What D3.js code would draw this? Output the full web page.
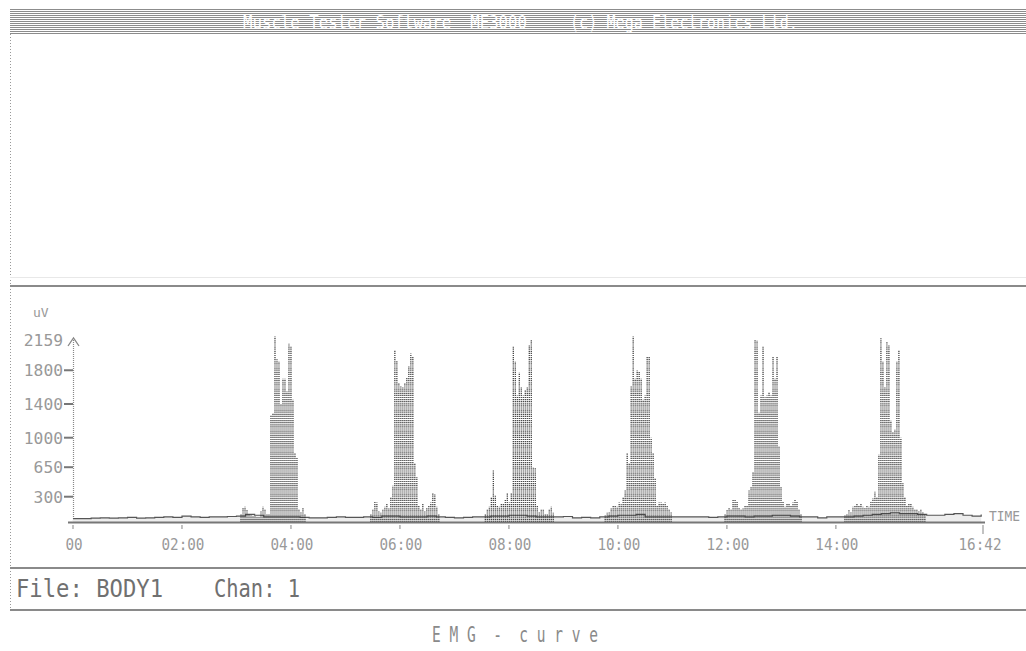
<!DOCTYPE html>
<html>
<head>
<meta charset="utf-8">
<script src="https://cdn.jsdelivr.net/npm/d3@7"></script>
<style>
  html, body { margin: 0; padding: 0; background: #fff; }
  svg { display: block; }
  text { font-family: "DejaVu Sans Mono", "Liberation Mono", monospace; white-space: pre; }
</style>
</head>
<body>
<svg id="chart" width="1026" height="651"></svg>
<script>
// ---- recording: EMG amplitude (uV) over time (s) ----
const totalSeconds = 1002;            // 16:42
const restStep = 10;                  // resting envelope sampled every 10 s
const restLevel = [
  40, 40, 45, 50, 45, 50, 55, 45, 50, 55,
  60, 55, 70, 60, 55, 60, 60, 65, 70, 90,
  80, 60, 60, 60, 60, 55, 50, 50, 55, 60,
  55, 55, 60, 55, 70, 70, 60, 60, 60, 70,
  60, 55, 50, 55, 60, 60, 70, 70, 80, 80,
  70, 60, 60, 60, 65, 50, 55, 50, 60, 70,
  80, 80, 90, 60, 60, 60, 60, 60, 60, 60,
  55, 60, 70, 70, 60, 70, 70, 80, 80, 70,
  60, 60, 50, 60, 60, 60, 70, 80, 90, 100,
  110, 100, 100, 90, 80, 80, 90, 100, 80, 70,
  90
];

// contraction bursts: start time (s) and amplitude every 2.2 s
const burstStep = 2.2;
const burstStarts = [185, 328, 454, 586, 718, 850];
const burst1 = [90, 170, 180, 140, 100, 80, 70, 70, 60, 60, 130, 180, 150, 90, 100,
  1270, 1290, 2200, 1930, 1900, 1400, 1700, 1700, 1550, 2120, 2080, 1450, 820, 760,
  150, 120, 170, 90];
const burst2 = [90, 150, 240, 230, 130, 110, 150, 180, 220, 160, 300, 430,
  2040, 1920, 1650, 1620, 1600, 1650, 1710, 1850, 2000, 1960, 700, 530,
  200, 150, 220, 130, 170, 190, 230, 350, 330, 180, 90];
const burst3 = [90, 150, 180, 300, 620, 310, 200, 180, 220, 220, 260, 340, 230, 340,
  2080, 1900, 1500, 1770, 1600, 1500, 1570, 1600, 2100, 2160, 650, 640,
  200, 120, 150, 150, 90, 100, 150, 180, 110];
const burst4 = [80, 110, 120, 160, 190, 200, 180, 230, 210, 300, 380, 820, 700,
  1620, 2200, 1700, 1800, 1780, 1700, 1450, 1500, 1960, 1960, 1000, 820, 520,
  200, 230, 230, 220, 230, 200, 150, 120];
const burst5 = [100, 140, 170, 150, 260, 260, 240, 170, 150, 160, 200, 190, 380, 420, 600,
  2160, 2150, 1300, 1500, 2080, 1480, 1500, 1540, 1500, 1960, 1700, 1960, 900, 420,
  250, 180, 220, 220, 200, 230, 260, 250, 150, 90];
const burst6 = [80, 100, 140, 120, 180, 200, 220, 200, 220, 180, 170, 200, 180, 250, 280,
  360, 300, 800, 2180, 1900, 1600, 2140, 2100, 1200, 1070, 1100, 1900, 2040, 1000, 460,
  300, 200, 220, 220, 180, 150, 150, 130, 150, 120, 100];
const bursts = [burst1, burst2, burst3, burst4, burst5, burst6];

// axis ticks
const yTicks = [300, 650, 1000, 1400, 1800, 2159];
const xTickTimes = [0, 120, 240, 360, 480, 600, 720, 840, 1002];
const xTickLabels = ["00", "02:00", "04:00", "06:00", "08:00", "10:00", "12:00", "14:00", "16:42"];

// ---- drawing ----
const svg = d3.select("#chart");
const W = 1026;

const x = d3.scaleLinear().domain([0, totalSeconds]).range([73, 983]);
const y = d3.scaleLinear().domain([0, 2159]).range([522, 340]);

// header band with horizontal raster lines
const header = svg.append("g");
header.selectAll("line").data(d3.range(9, 35, 2)).join("line")
  .attr("x1", 10).attr("x2", W).attr("y1", d => d + 0.5).attr("y2", d => d + 0.5)
  .attr("stroke", "#8c8c8c").attr("stroke-width", 1.2);
header.append("text").attr("x", 243).attr("y", 29)
  .attr("font-size", 19).attr("fill", "#fff")
  .attr("textLength", 284).attr("lengthAdjust", "spacingAndGlyphs")
  .text("Muscle Tester Software  ME3000");
header.append("text").attr("x", 570).attr("y", 29)
  .attr("font-size", 19).attr("fill", "#fff")
  .attr("textLength", 228).attr("lengthAdjust", "spacingAndGlyphs")
  .text("(c) Mega Electronics Ltd.");

// frame: left dotted edge and horizontal rules
svg.append("line").attr("x1", 10.5).attr("x2", 10.5).attr("y1", 34).attr("y2", 612)
  .attr("stroke", "#999").attr("stroke-dasharray", "1,2");
svg.append("line").attr("x1", 10).attr("x2", W).attr("y1", 277.5).attr("y2", 277.5)
  .attr("stroke", "#e8e8e8").attr("stroke-width", 1);
[286, 568, 610].forEach(yy => {
  svg.append("line").attr("x1", 10).attr("x2", W).attr("y1", yy).attr("y2", yy)
    .attr("stroke", "#8a8a8a").attr("stroke-width", 2);
});

// y axis
const gy = svg.append("g");
gy.append("line").attr("x1", 73.5).attr("x2", 73.5).attr("y1", y(2159)).attr("y2", y(0))
  .attr("stroke", "#888").attr("stroke-width", 1.2).attr("stroke-dasharray", "1,1");
gy.append("path")
  .attr("d", `M68,${y(2159) + 6} L73.5,${y(2159) - 2} L79,${y(2159) + 6}`)
  .attr("fill", "none").attr("stroke", "#888").attr("stroke-width", 1.3);
gy.selectAll("line.tick").data(yTicks.slice(0, -1)).join("line").attr("class", "tick")
  .attr("x1", 64).attr("x2", 73).attr("y1", d => y(d)).attr("y2", d => y(d))
  .attr("stroke", "#777").attr("stroke-width", 2);
gy.selectAll("text.lbl").data(yTicks).join("text").attr("class", "lbl")
  .attr("x", 63).attr("y", d => y(d) + 6)
  .attr("text-anchor", "end").attr("font-size", 16).attr("fill", "#999")
  .attr("textLength", d => String(d).length * 9.8).attr("lengthAdjust", "spacingAndGlyphs")
  .text(d => d);
gy.append("text").attr("x", 33).attr("y", 317).attr("font-size", 13)
  .attr("fill", "#999").text("uV");

// resting envelope (step line) with faint fill down to the axis
const restPts = restLevel.map((v, i) => [Math.min(i * restStep, totalSeconds), v]);
svg.append("path").datum(restPts)
  .attr("d", d3.area().curve(d3.curveStepAfter)
    .x(d => x(d[0])).y0(y(0)).y1(d => y(d[1])))
  .attr("fill", "#ededed");
svg.append("path").datum(restPts)
  .attr("d", d3.line().curve(d3.curveStepAfter)
    .x(d => x(d[0])).y(d => y(d[1])))
  .attr("fill", "none").attr("stroke", "#555").attr("stroke-width", 1.2);

// burst columns, drawn as dot-matrix verticals
const cols = [];
bursts.forEach((arr, b) => arr.forEach((v, i) => cols.push({ t: burstStarts[b] + i * burstStep, v })));
svg.append("g").selectAll("line").data(cols).join("line")
  .attr("x1", d => x(d.t)).attr("x2", d => x(d.t))
  .attr("y1", y(0)).attr("y2", d => y(d.v))
  .attr("stroke", "#333").attr("stroke-width", 1.2)
  .attr("stroke-dasharray", "1.2,0.9");

// x axis
const gx = svg.append("g");
gx.append("line").attr("x1", 68).attr("x2", 985).attr("y1", y(0) + 0.5).attr("y2", y(0) + 0.5)
  .attr("stroke", "#777").attr("stroke-width", 2);
gx.selectAll("line.tick").data(xTickTimes).join("line").attr("class", "tick")
  .attr("x1", d => x(d)).attr("x2", d => x(d))
  .attr("y1", y(0) + 3).attr("y2", d => d === totalSeconds ? y(0) + 12 : y(0) + 7)
  .attr("stroke", "#999").attr("stroke-width", 1.2);
gx.selectAll("text").data(xTickTimes).join("text")
  .attr("x", d => x(d) + (d === totalSeconds ? -3 : 1)).attr("y", 550)
  .attr("text-anchor", "middle").attr("font-size", 16).attr("fill", "#999")
  .attr("textLength", (d, i) => xTickLabels[i].length * 8.6).attr("lengthAdjust", "spacingAndGlyphs")
  .text((d, i) => xTickLabels[i]);
gx.append("text").attr("x", 989).attr("y", 521).attr("font-size", 14).attr("fill", "#999")
  .attr("textLength", 31).attr("lengthAdjust", "spacingAndGlyphs").text("TIME");

// footer
svg.append("text").attr("x", 16).attr("y", 597).attr("font-size", 24).attr("fill", "#707070")
  .attr("textLength", 147).attr("lengthAdjust", "spacingAndGlyphs").text("File: BODY1");
svg.append("text").attr("x", 214).attr("y", 597).attr("font-size", 24).attr("fill", "#707070")
  .attr("textLength", 86).attr("lengthAdjust", "spacingAndGlyphs").text("Chan: 1");
svg.append("text").attr("x", 432).attr("y", 642).attr("font-size", 22).attr("fill", "#8a8a8a")
  .attr("textLength", 166).attr("lengthAdjust", "spacingAndGlyphs").text("E M G  -  c u r v e");
</script>
</body>
</html>
